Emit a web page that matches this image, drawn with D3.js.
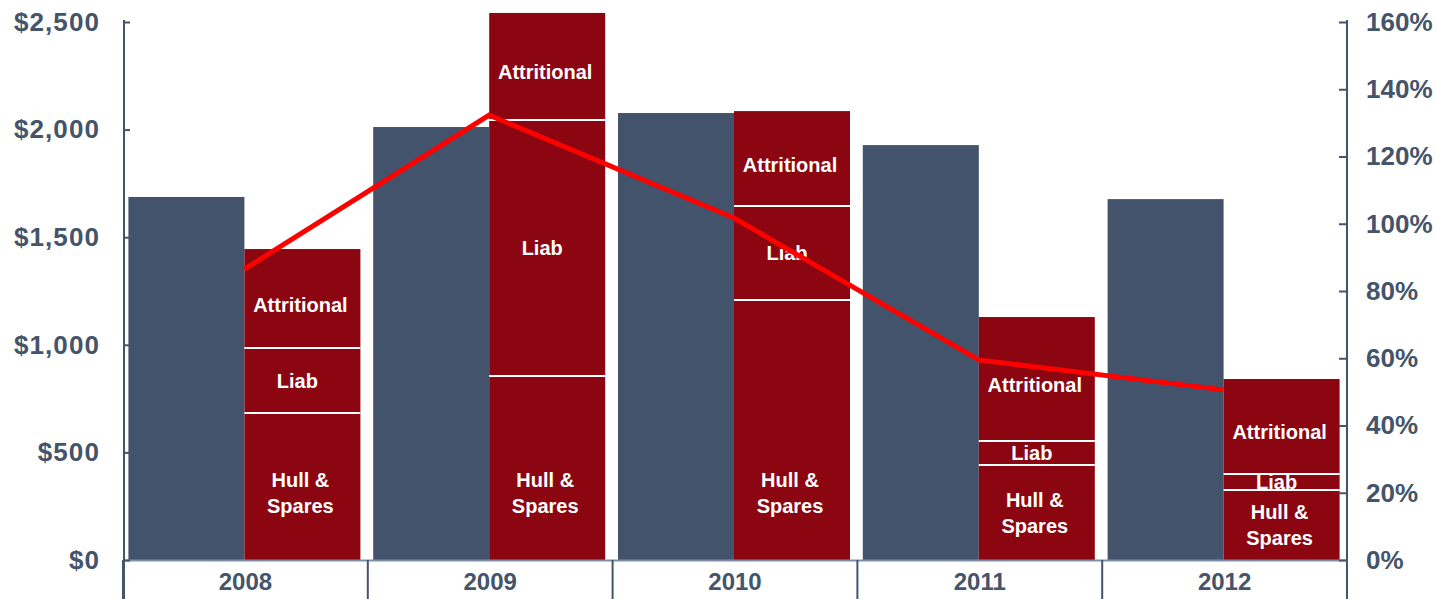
<!DOCTYPE html>
<html>
<head>
<meta charset="utf-8">
<script src="https://cdn.jsdelivr.net/npm/d3@7"></script>
<style>
    body { margin: 0; background: #fff; }
    text { font-family: "Liberation Sans", Arial, sans-serif; font-weight: bold; }
</style>
</head>
<body>
<div class="article"></div>
<script>
// chart values
var years = ["2008", "2009", "2010", "2011", "2012"];
var premium = [1687, 2012, 2077, 1928, 1677];
var hull = [683, 855, 1208, 441, 325];
var liab = [302, 1190, 437, 112, 75];
var attritional = [460, 497, 441, 576, 441];
var lossRatio = [86.5, 132.3, 101.7, 59.5, 50.6];
var leftTicks = [0, 500, 1000, 1500, 2000, 2500];
var rightTicks = [0, 20, 40, 60, 80, 100, 120, 140, 160];

var data = years.map((y, i) => ({
    year: y,
    premium: premium[i],
    hull: hull[i],
    liab: liab[i],
    attritional: attritional[i],
    ratio: lossRatio[i]
}));

buildChart(data);

function buildChart(data) {
    var svgWidth = 1436;
    var svgHeight = 599;
    var axisColor = "#44546A";
    var blue = "#43536B";
    var red = "#8B0610";

    var svg = d3.select(".article").append("svg")
        .attr("width", svgWidth)
        .attr("height", svgHeight);

    // scales
    var xScale = d3.scaleBand()
        .domain(years)
        .range([123, 1347])
        .padding(0);

    var yLeft = d3.scaleLinear()
        .domain([0, 2500])
        .range([560, 22]);

    var yRight = d3.scaleLinear()
        .domain([0, 160])
        .range([560, 22]);

    var barW = 116;
    var cx = d => xScale(d.year) + xScale.bandwidth() / 2;

    // blue bars
    svg.append("g")
        .selectAll("rect")
        .data(data)
        .enter()
        .append("rect")
        .attr("x", d => cx(d) - barW - 1)
        .attr("y", d => yLeft(d.premium))
        .attr("width", barW)
        .attr("height", d => yLeft(0) - yLeft(d.premium))
        .attr("fill", blue);

    // stacked red bars
    var stack = d3.stack().keys(["hull", "liab", "attritional"])(data);
    svg.append("g")
        .selectAll("g")
        .data(stack)
        .enter()
        .append("g")
        .selectAll("rect")
        .data(s => s)
        .enter()
        .append("rect")
        .attr("x", d => cx(d.data) - 1)
        .attr("y", d => yLeft(d[1]))
        .attr("width", barW)
        .attr("height", d => yLeft(d[0]) - yLeft(d[1]))
        .attr("fill", red);

    // segment labels
    var labels = svg.append("g")
        .attr("fill", "#fff")
        .attr("font-size", 20)
        .attr("text-anchor", "middle");

    labels.selectAll(".attr")
        .data(data)
        .enter()
        .append("text")
        .attr("x", d => cx(d) - 3 + barW / 2)
        .attr("y", d => yLeft(d.hull + d.liab + d.attritional / 2))
        .attr("dy", "0.65em")
        .text("Attritional");

    labels.selectAll(".liab")
        .data(data)
        .enter()
        .append("text")
        .attr("x", d => cx(d) - 6 + barW / 2)
        .attr("y", d => yLeft(d.hull + d.liab / 2))
        .attr("dy", "0.35em")
        .text("Liab");

    var hullText = labels.selectAll(".hull")
        .data(data)
        .enter()
        .append("text")
        .attr("x", d => cx(d) - 3 + barW / 2)
        .attr("y", d => yLeft(Math.min(d.hull / 2, 310)));
    hullText.append("tspan")
        .attr("x", d => cx(d) - 3 + barW / 2)
        .attr("dy", "-0.3em")
        .text("Hull &");
    hullText.append("tspan")
        .attr("x", d => cx(d) - 3 + barW / 2)
        .attr("dy", "1.3em")
        .text("Spares");

    // white divider lines between segments
    var dividers = [];
    data.forEach(d => {
        dividers.push({ d: d, v: d.hull });
        dividers.push({ d: d, v: d.hull + d.liab });
    });
    svg.append("g")
        .selectAll("line")
        .data(dividers)
        .enter()
        .append("line")
        .attr("x1", e => cx(e.d) - 1)
        .attr("x2", e => cx(e.d) - 1 + barW)
        .attr("y1", e => yLeft(e.v))
        .attr("y2", e => yLeft(e.v))
        .attr("stroke", "#fff")
        .attr("stroke-width", 2);

    // loss ratio line
    var line = d3.line()
        .x(d => cx(d) - 1)
        .y(d => yRight(d.ratio));
    svg.append("path")
        .datum(data)
        .attr("d", line)
        .attr("fill", "none")
        .attr("stroke", "#FF0000")
        .attr("stroke-width", 5)
        .attr("stroke-linejoin", "miter");

    // x axis baseline and category separators
    svg.append("line")
        .attr("x1", 123).attr("x2", 1347)
        .attr("y1", yLeft(0) + 0.5).attr("y2", yLeft(0) + 0.5)
        .attr("stroke", "#7F8FA8")
        .attr("stroke-width", 2);

    var bounds = years.map(y => xScale(y)).concat([xScale.range()[1]]);
    svg.append("g")
        .selectAll("line")
        .data(bounds)
        .enter()
        .append("line")
        .attr("x1", d => d).attr("x2", d => d)
        .attr("y1", yLeft(0)).attr("y2", svgHeight)
        .attr("stroke", axisColor)
        .attr("stroke-width", 2);

    svg.append("g")
        .selectAll("text")
        .data(years)
        .enter()
        .append("text")
        .attr("x", d => xScale(d) + xScale.bandwidth() / 2)
        .attr("y", 590)
        .attr("text-anchor", "middle")
        .attr("font-size", 24)
        .attr("fill", axisColor)
        .text(d => d);

    // left axis
    var leftAxis = d3.axisLeft(yLeft)
        .tickValues(leftTicks)
        .tickSizeInner(-6)
        .tickSizeOuter(0)
        .tickPadding(24)
        .tickFormat(d => "$" + d3.format(",")(d));
    var gl = svg.append("g")
        .attr("transform", "translate(124, 0)")
        .call(leftAxis);
    gl.select(".domain").remove();
    gl.selectAll("line").attr("stroke", axisColor).attr("stroke-width", 2);
    gl.selectAll("text")
        .attr("font-size", 26)
        .attr("letter-spacing", 1.1)
        .attr("fill", axisColor);
    svg.append("line")
        .attr("x1", 124).attr("x2", 124)
        .attr("y1", 20).attr("y2", svgHeight)
        .attr("stroke", axisColor)
        .attr("stroke-width", 2);

    // right axis
    var rightAxis = d3.axisRight(yRight)
        .tickValues(rightTicks)
        .tickSizeInner(-8)
        .tickSizeOuter(0)
        .tickPadding(19)
        .tickFormat(d => d + "%");
    var gr = svg.append("g")
        .attr("transform", "translate(1347, 0)")
        .call(rightAxis);
    gr.select(".domain").remove();
    gr.selectAll("line").attr("stroke", axisColor).attr("stroke-width", 2);
    gr.selectAll("text")
        .attr("font-size", 26)
        .attr("fill", axisColor);
    svg.append("line")
        .attr("x1", 1347).attr("x2", 1347)
        .attr("y1", 20).attr("y2", svgHeight)
        .attr("stroke", axisColor)
        .attr("stroke-width", 2);
}
</script>
</body>
</html>
